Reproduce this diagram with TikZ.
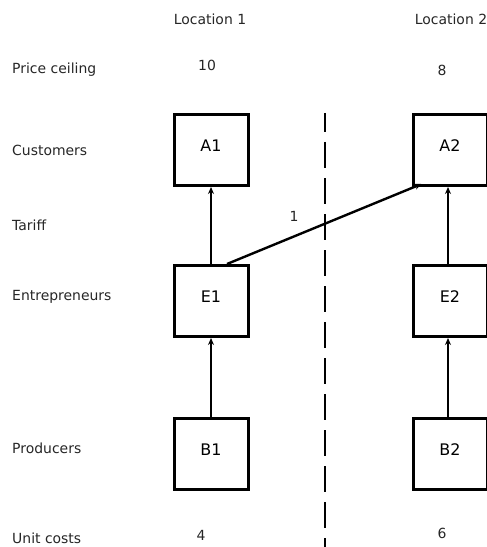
\documentclass[tikz,border=0pt]{standalone}
\usepackage{fontspec}
\setmainfont{DejaVu Sans}
\usetikzlibrary{arrows.meta,calc}
\begin{document}
\begin{tikzpicture}[x=1bp,y=-1bp,
  box/.style={draw, line width=3bp, minimum width=74bp, minimum height=71bp, inner sep=0,
    text height=11bp, text depth=8bp, font=\fontsize{16}{19}\selectfont},
  lbl/.style={anchor=west, inner sep=0, font=\fontsize{14}{16}\selectfont, text=black!85},
  num/.style={inner sep=0, font=\fontsize{14}{16}\selectfont, text=black!85},
  conn/.style={line width=2.4bp, -{Stealth[length=7bp,width=6bp]}},
  divider/.style={line width=2.8bp, dash pattern=on 26bp off 10bp, dash phase=7bp},
]
\useasboundingbox (0,0) rectangle (487,547);
\clip (0,0) rectangle (487,547);

% column headers
\node[num] (loc1) at (210,19) {Location 1};
\node[num] (loc2) at (451,19) {Location 2};

% row labels
\node[lbl] (pc) at (12,70) {Price ceiling};
\node[lbl] (cu) at (12,150) {Customers};
\node[lbl] (ta) at (12,225) {Tariff};
\node[lbl] (en) at (12,297) {Entrepreneurs};
\node[lbl] (pr) at (12,448) {Producers};
\node[lbl] (uc) at (12,538) {Unit costs};

% numbers
\node[num] (p1) at (207,65) {10};
\node[num] (p2) at (442,70) {8};
\node[num] (c1) at (201,535) {4};
\node[num] (c2) at (442,533) {6};
\node[num] (t1) at (294,216) {1};

% boxes
\node[box] (A1) at (211,150) {A1};
\node[box] (E1) at (211,301) {E1};
\node[box] (B1) at (211,454) {B1};
\node[box] (A2) at (450,150) {A2};
\node[box] (E2) at (450,301) {E2};
\node[box] (B2) at (450,454) {B2};

% divider
\coordinate (dtop) at (325,113);
\coordinate (dbot) at (325,547);
\draw[divider] (dtop) -- (dbot);

% connectors
\draw[conn] (B1.north) -- (E1.south);
\draw[conn] (E1.north) -- (A1.south);
\draw[conn] ($(B2.north)+(-2,0)$) -- ($(E2.south)+(-2,0)$);
\draw[conn] ($(E2.north)+(-2,0)$) -- ($(A2.south)+(-2,0)$);
\draw[conn] ($(E1.north)+(16,0)$) -- ($(A2.south west)+(10,-3)$);
\end{tikzpicture}
\end{document}
